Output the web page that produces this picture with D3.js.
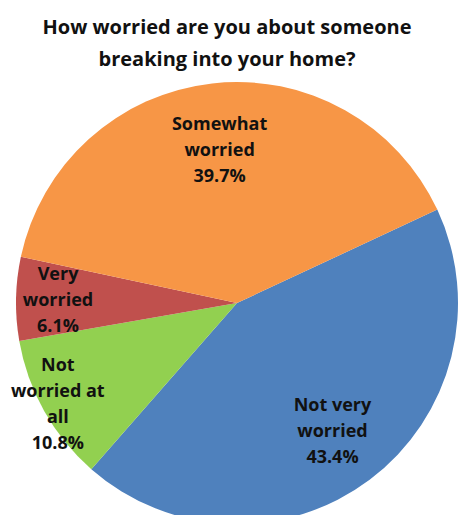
<!DOCTYPE html>
<html>
<head>
<meta charset="utf-8">
<script src="https://cdn.jsdelivr.net/npm/d3@7"></script>
<style>
  body { margin: 0; background: #fff; }
  svg { display: block; font-family: "Open Sans", sans-serif; font-weight: bold; }
</style>
</head>
<body>
<div id="container"></div>
<script>
/* DATA */
const categories = ["Not very worried", "Not worried at all", "Very worried", "Somewhat worried"];
const values = [43.4, 10.8, 6.1, 39.7];
const labelLines = [["Not very", "worried"], ["Not", "worried at", "all"], ["Very", "worried"], ["Somewhat", "worried"]];
const colors = ["#4F81BD", "#92D050", "#C0504D", "#F79646"];
const titleLines = ["How worried are you about someone", "breaking into your home?"];

/* CONSTANTS */
const width = 460;
const height = 515;
const cx = 237, cy = 303, radius = 221;
const startDeg = 65; // first slice starts here, clockwise from 12 o'clock
const labelFactor = [0.72, 0.93, 0.81, 0.7]; // where each label sits, as share of radius

const data = categories.map((c, i) => ({ category: c, value: values[i], lines: labelLines[i], color: colors[i], lf: labelFactor[i] }));

const svg = d3.select("#container")
  .append("svg")
  .attr("width", width)
  .attr("height", height);

// title
svg.append("g").selectAll("text")
  .data(titleLines)
  .join("text")
  .attr("x", 227)
  .attr("y", (d, i) => 34 + i * 32)
  .attr("text-anchor", "middle")
  .attr("font-size", 20)
  .attr("fill", "#111")
  .text(d => d);

const pie = d3.pie()
  .value(d => d.value)
  .sort(null)
  .startAngle(startDeg * Math.PI / 180)
  .endAngle(startDeg * Math.PI / 180 + 2 * Math.PI);

const arc = d3.arc().innerRadius(0).outerRadius(radius);

const g = svg.append("g").attr("transform", `translate(${cx},${cy})`);
const arcs = pie(data);

g.selectAll("path")
  .data(arcs)
  .join("path")
  .attr("d", arc)
  .attr("fill", d => d.data.color);

// labels
const lineH = 26;
const labels = g.selectAll("text.lbl")
  .data(arcs)
  .join("text")
  .attr("class", "lbl")
  .attr("font-size", 18)
  .attr("text-anchor", "middle")
  .attr("fill", "#111")
  .attr("transform", d => {
    const r = radius * d.data.lf;
    const [x, y] = d3.arc().innerRadius(r).outerRadius(r).centroid(d);
    return `translate(${x},${y})`;
  });

labels.each(function(d) {
  const lines = d.data.lines.concat([d3.format(".1f")(d.data.value) + "%"]);
  const y0 = -(lines.length - 1) * lineH / 2;
  d3.select(this).selectAll("tspan")
    .data(lines)
    .join("tspan")
    .attr("x", 0)
    .attr("y", (l, i) => y0 + i * lineH)
    .attr("dy", "0.35em")
    .text(l => l);
});
</script>
</body>
</html>
